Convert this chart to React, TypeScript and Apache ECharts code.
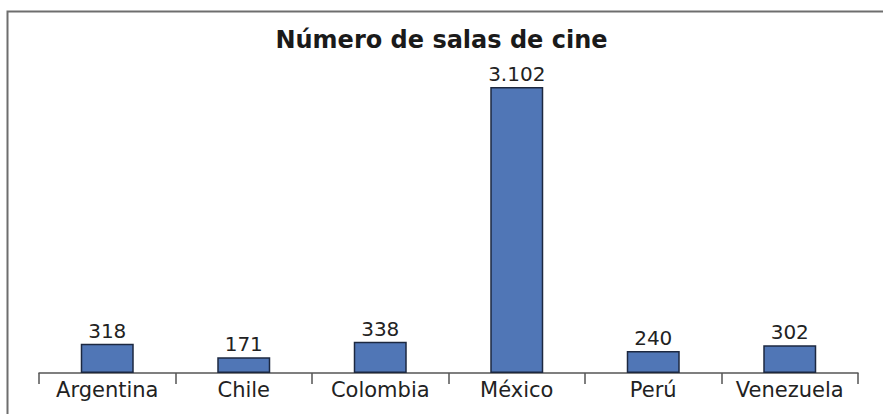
import React, { useEffect, useRef } from "react";
import * as echarts from "echarts";

const categories = ["Argentina", "Chile", "Colombia", "México", "Perú", "Venezuela"];
const salas = [318, 171, 338, 3102, 240, 302];
const titleText = "Número de salas de cine";

const formatValue = (v: number) =>
  v >= 1000 ? `${Math.floor(v / 1000)}.${String(v % 1000).padStart(3, "0")}` : String(v);

export default function App() {
  const ref = useRef<HTMLDivElement>(null);
  useEffect(() => {
    if (!ref.current) return;
    const chart = echarts.init(ref.current, undefined, { renderer: "svg" });
    chart.setOption({
      animation: false,
      backgroundColor: "#ffffff",
      title: {
        text: titleText,
        left: "center",
        top: 28,
        padding: 0,
        textStyle: {
          fontFamily: "DejaVu Sans",
          fontWeight: "bold",
          fontSize: 24,
          color: "#1a1a1a",
        },
      },
      graphic: [
        {
          type: "polyline",
          silent: true,
          shape: { points: [[7.5, 414], [7.5, 11.5], [883, 11.5]] },
          style: { stroke: "#6e6e6e", lineWidth: 2, fill: "none" },
        },
      ],
      grid: { left: 39, right: 25, top: 78, bottom: 41, containLabel: false },
      xAxis: {
        type: "category",
        data: categories,
        axisLine: { show: true, lineStyle: { color: "#555555", width: 1.5 } },
        axisTick: {
          show: true,
          alignWithLabel: false,
          inside: false,
          length: 11,
          lineStyle: { color: "#555555", width: 1.5 },
        },
        axisLabel: {
          margin: 6,
          fontFamily: "DejaVu Sans",
          fontSize: 21,
          color: "#222222",
          interval: 0,
        },
      },
      yAxis: {
        type: "value",
        min: 0,
        max: 3200,
        show: false,
        splitLine: { show: false },
      },
      series: [
        {
          type: "bar",
          data: salas,
          barWidth: 53,
          itemStyle: {
            color: "#5076b6",
            borderColor: "#1c2840",
            borderWidth: 1.5,
          },
          label: {
            show: true,
            position: "top",
            distance: 3,
            fontFamily: "DejaVu Sans",
            fontSize: 20,
            color: "#222222",
            formatter: (p: any) => formatValue(p.value),
          },
        },
      ],
    });
    return () => chart.dispose();
  }, []);
  return (
    <div
      ref={ref}
      style={{ position: "fixed", left: 0, top: 0, width: 883, height: 414, background: "#fff" }}
    />
  );
}
